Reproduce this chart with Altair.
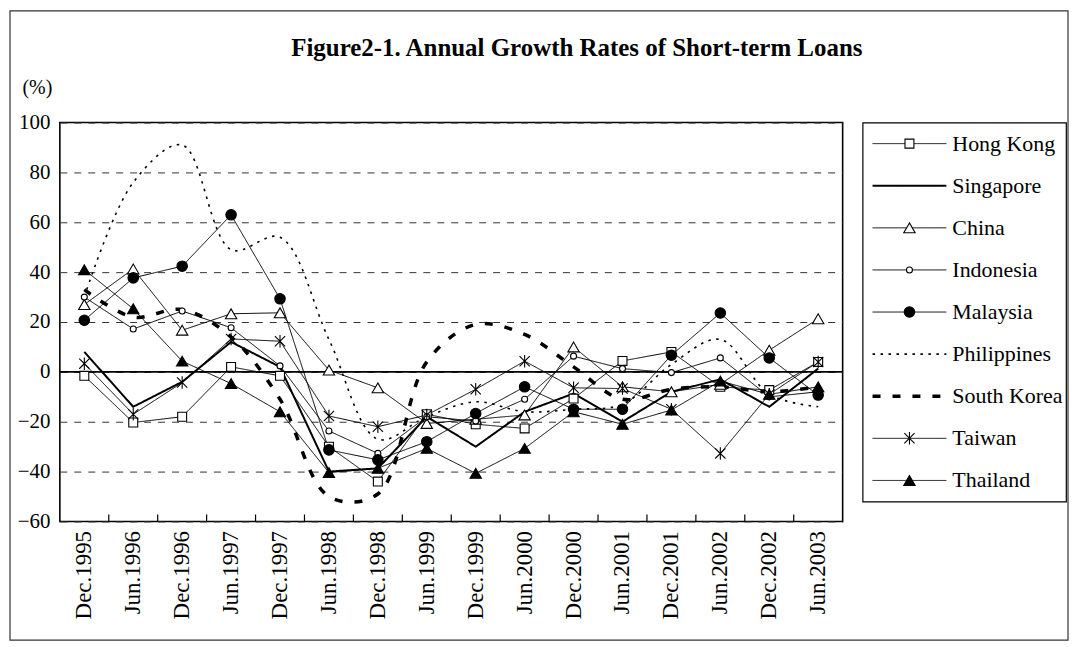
import altair as alt
import pandas as pd

categories = ["Dec.1995", "Jun.1996", "Dec.1996", "Jun.1997", "Dec.1997", "Jun.1998",
              "Dec.1998", "Jun.1999", "Dec.1999", "Jun.2000", "Dec.2000", "Jun.2001",
              "Dec.2001", "Jun.2002", "Dec.2002", "Jun.2003"]

hong_kong   = [-1.6, -20.3, -18.0, 2.0, -1.6, -30.0, -44.0, -17.0, -21.0, -22.7, -10.7, 4.4, 8.0, -6.0, -7.3, 4.0]
singapore   = [8.0, -14.0, -4.0, 12.0, 2.0, -40.0, -38.7, -18.0, -30.0, -16.0, -8.7, -20.0, -8.0, -3.0, -14.0, 1.3]
china       = [27.0, 41.3, 16.7, 23.3, 23.7, 0.7, -6.4, -20.7, -19.0, -17.3, 10.0, -6.0, -8.0, -5.0, 8.7, 21.3]
indonesia   = [30.0, 17.2, 24.4, 17.7, 2.4, -23.7, -32.7, -18.0, -19.7, -11.0, 6.3, 1.3, -0.3, 5.6, -10.0, -8.0]
malaysia    = [20.7, 37.7, 42.4, 63.0, 29.3, -31.3, -35.3, -28.0, -16.7, -6.0, -15.0, -15.0, 6.7, 23.6, 5.6, -9.3]
philippines = [30.0, 76.0, 91.0, 49.0, 54.0, 13.0, -27.0, -18.0, -12.0, -16.0, -15.0, -13.0, 3.0, 13.0, -9.0, -14.0]
south_korea = [33.0, 22.0, 25.0, 14.0, -11.0, -50.0, -49.0, 4.0, 19.0, 15.0, 2.0, -11.0, -7.0, -6.0, -8.0, -6.0]
taiwan      = [3.3, -17.0, -4.3, 13.2, 12.3, -17.7, -22.0, -17.3, -7.0, 4.3, -6.4, -6.7, -15.0, -32.7, -9.0, 4.0]
thailand    = [41.0, 25.3, 4.3, -4.7, -16.0, -40.4, -38.7, -30.7, -40.7, -30.7, -16.0, -21.0, -15.3, -3.7, -9.0, -6.0]

series_names = ["Hong Kong", "Singapore", "China", "Indonesia", "Malaysia",
                "Philippines", "South Korea", "Taiwan", "Thailand"]
series_values = [hong_kong, singapore, china, indonesia, malaysia,
                 philippines, south_korea, taiwan, thailand]
y_ticks = [-60, -40, -20, 0, 20, 40, 60, 80, 100]

# styling tables (by series)
dash_range = [[1, 0], [1, 0], [1, 0], [1, 0], [1, 0], [2.5, 5.5], [8, 12], [1, 0], [1, 0]]
width_range = [1, 2, 1, 1, 1, 1.6, 3.5, 1, 1]
smooth_series = ["Philippines", "South Korea"]
marker_series = ["Hong Kong", "China", "Indonesia", "Malaysia", "Taiwan", "Thailand"]
asterisk = "M-0.9,-0.9L0.9,0.9M0.9,-0.9L-0.9,0.9M0,-1.1L0,1.1"
shape_range = ["square", "triangle-up", "circle", "circle", asterisk, "triangle-up"]
fill_range = ["white", "white", "white", "black", "black", "black"]
size_range = [80, 130, 36, 110, 130, 130]

FONT = "Liberation Serif"

rows = []
for name, vals in zip(series_names, series_values):
    for c, v in zip(categories, vals):
        rows.append({"cat": c, "series": name, "value": v})
df = pd.DataFrame(rows)
df_lin = df[~df["series"].isin(smooth_series)]
df_smooth = df[df["series"].isin(smooth_series)]
df_mark = df[df["series"].isin(marker_series)]

W, H = 785, 400

x_enc = alt.X("cat:N", sort=categories, bandPosition=0.5,
              scale=alt.Scale(type="band", domain=categories, paddingInner=0, paddingOuter=0),
              axis=alt.Axis(title=None, labelAngle=270, ticks=False, domain=False, grid=False,
                            labelFont=FONT, labelFontSize=23, labelColor="black", labelPadding=9))
y_enc = alt.Y("value:Q",
              scale=alt.Scale(domain=[-60, 100], nice=False, zero=False),
              axis=alt.Axis(values=y_ticks, grid=True, gridDash=[7, 7], gridColor="#333",
                            gridWidth=1, ticks=False, domain=False,
                            labelFont=FONT, labelFontSize=21, labelColor="black", labelPadding=10,
                            title="(%)", titleAngle=0, titleX=-38, titleY=-35,
                            titleAlign="left", titleBaseline="middle", titleFont=FONT,
                            titleFontSize=20, titleFontWeight="normal", titleColor="black"))

dash_scale = alt.Scale(type="ordinal", domain=series_names, range=dash_range)
width_scale = alt.Scale(type="ordinal", domain=series_names, range=width_range)
shape_scale = alt.Scale(type="ordinal", domain=marker_series, range=shape_range)
fill_scale = alt.Scale(type="ordinal", domain=marker_series, range=fill_range)
size_scale = alt.Scale(type="ordinal", domain=marker_series, range=size_range)

base_lin = alt.Chart(df_lin).mark_line(color="black").encode(
    x=x_enc, y=y_enc, detail="series:N",
    strokeDash=alt.StrokeDash("series:N", scale=dash_scale, legend=None),
    strokeWidth=alt.StrokeWidth("series:N", scale=width_scale, legend=None),
)
smooth = alt.Chart(df_smooth).mark_line(color="black", interpolate="catmull-rom").encode(
    x=alt.X("cat:N", sort=categories, bandPosition=0.5), y="value:Q", detail="series:N",
    strokeDash=alt.StrokeDash("series:N", scale=dash_scale, legend=None),
    strokeWidth=alt.StrokeWidth("series:N", scale=width_scale, legend=None),
)
points = alt.Chart(df_mark).mark_point(filled=True, stroke="black", strokeWidth=1.1, opacity=1).encode(
    x=alt.X("cat:N", sort=categories, bandPosition=0.5), y="value:Q",
    shape=alt.Shape("series:N", scale=shape_scale, legend=None),
    fill=alt.Fill("series:N", scale=fill_scale, legend=None),
    size=alt.Size("series:N", scale=size_scale, legend=None),
)
zero = alt.Chart(pd.DataFrame({"z": [0]})).mark_rule(color="black", strokeWidth=1.6).encode(y="z:Q")
inner_ticks = alt.Chart(pd.DataFrame({"cat": categories[1:]})).mark_rule(color="black", strokeWidth=1.2).encode(
    x=alt.X("cat:N", sort=categories, bandPosition=0), y=alt.value(H - 7), y2=alt.value(H)
)
frame = alt.Chart(pd.DataFrame({"f": [0]})).mark_rect(
    fillOpacity=0, stroke="#333", strokeWidth=1.2
).encode(x=alt.value(-50), x2=alt.value(1011), y=alt.value(-112), y2=alt.value(519))

plot = alt.layer(frame, zero, base_lin, smooth, inner_ticks, points).properties(
    width=W, height=H,
    view=alt.ViewBackground(stroke="black", strokeWidth=1.6),
)

# legend panel
leg_df = pd.DataFrame({"series": series_names})
leg_mark_df = pd.DataFrame({"series": marker_series})
ly = alt.Y("series:N", sort=series_names,
           scale=alt.Scale(type="point", domain=series_names, padding=0.5), axis=None)
leg_lines = alt.Chart(leg_df).mark_rule(color="black").encode(
    y=ly, x=alt.value(10), x2=alt.value(84),
    strokeDash=alt.StrokeDash("series:N", scale=dash_scale, legend=None),
    strokeWidth=alt.StrokeWidth("series:N", scale=width_scale, legend=None),
)
leg_pts = alt.Chart(leg_mark_df).mark_point(filled=True, stroke="black", strokeWidth=1.1, opacity=1).encode(
    y=alt.Y("series:N", sort=series_names), x=alt.value(47),
    shape=alt.Shape("series:N", scale=shape_scale, legend=None),
    fill=alt.Fill("series:N", scale=fill_scale, legend=None),
    size=alt.Size("series:N", scale=size_scale, legend=None),
)
leg_text = alt.Chart(leg_df).mark_text(align="left", baseline="middle", font=FONT,
                                       fontSize=22, color="black").encode(
    y=alt.Y("series:N", sort=series_names), x=alt.value(90), text="series:N"
)
legend = alt.layer(leg_lines, leg_pts, leg_text).properties(
    width=204, height=380,
    view=alt.ViewBackground(stroke="black", strokeWidth=1.2),
)

chart = alt.hconcat(plot, legend, spacing=20, bounds="flush").resolve_scale(
    strokeDash="independent", strokeWidth="independent", shape="independent",
    fill="independent", size="independent"
).properties(
    padding=0, background="white",
    title=alt.TitleParams("Figure2-1. Annual Growth Rates of Short-term Loans",
                          anchor="start", frame="group", dx=232, fontSize=25, font=FONT,
                          fontWeight="bold", color="black", offset=-52),
)

chart.save("out.html", embed_options={"renderer": "svg", "actions": False})
